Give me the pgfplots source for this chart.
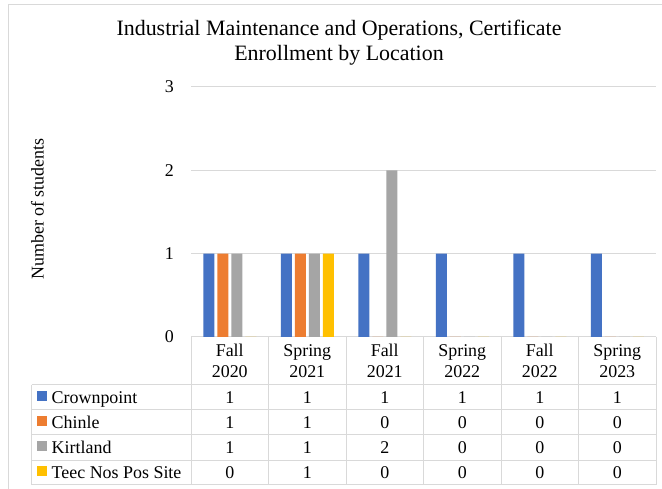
\documentclass[border=0pt]{standalone}
\usepackage{fontspec}
\setmainfont{Liberation Serif}
\usepackage{pgfplots}
\pgfplotsset{compat=1.18}
\definecolor{cBlue}{HTML}{4472C4}
\definecolor{cOrange}{HTML}{ED7D31}
\definecolor{cGray}{HTML}{A5A5A5}
\definecolor{cYellow}{HTML}{FFC000}
\definecolor{lineC}{HTML}{D9D9D9}
\begin{document}
\begin{tikzpicture}[x=1bp,y=1bp]
\useasboundingbox (0,0) rectangle (662,489);
\fill[white] (0,0) rectangle (662,489);
\draw[lineC, line width=1bp] (8,0) -- (8,484) -- (662,484);
\node[font=\fontsize{22}{25}\selectfont, align=center] at (339,446) {Industrial Maintenance and Operations, Certificate\\Enrollment by Location};
\node[rotate=90, font=\fontsize{18}{21}\selectfont] at (37.5,280) {Number of students};
\begin{axis}[
  at={(191bp,152bp)}, anchor=origin, scale only axis,
  width=465bp, height=250bp,
  xmin=0, xmax=6, ymin=0, ymax=3,
  ytick={0,1,2,3}, xtick={0.5,1.5,2.5,3.5,4.5,5.5},
  xticklabels={{Fall\\2020},{Spring\\2021},{Fall\\2021},{Spring\\2022},{Fall\\2022},{Spring\\2023}},
  xticklabel style={align=center, anchor=center, yshift=-24bp, inner sep=0pt, font=\fontsize{18}{21.5}\selectfont},
  yticklabel style={anchor=east, inner sep=0pt, xshift=-17bp, font=\fontsize{18}{21}\selectfont},
  /pgf/number format/assume math mode=true,
  ybar=3bp, bar width=11bp,
  ymajorgrids, grid style={lineC, line width=1bp},
  axis line style={draw=none}, major tick length=0pt,
  clip=false,
]
\addplot[fill=cBlue, draw=none] coordinates {(0.5,1)(1.5,1)(2.5,1)(3.5,1)(4.5,1)(5.5,1)};
\addplot[fill=cOrange, draw=none] coordinates {(0.5,1)(1.5,1)(2.5,0)(3.5,0)(4.5,0)(5.5,0)};
\addplot[fill=cGray, draw=none] coordinates {(0.5,1)(1.5,1)(2.5,2)(3.5,0)(4.5,0)(5.5,0)};
\addplot[fill=cYellow, draw=none] coordinates {(0.5,0)(1.5,1)(2.5,0)(3.5,0)(4.5,0)(5.5,0)};
\end{axis}
% data table grid
\begin{scope}[lineC, line width=1bp]
\foreach \x in {191,268.5,346,423.5,501,578.5,656} \draw (\x,152) -- (\x,4);
\draw (31.7,104) -- (31.7,4);
\foreach \y in {104,79,54,28.5,4} \draw (31.7,\y) -- (656,\y);
\end{scope}
\foreach \name/\col/\base/\sq/\vals in {
  Crownpoint/cBlue/85.5/93/{1,1,1,1,1,1},
  Chinle/cOrange/60.5/68/{1,1,0,0,0,0},
  Kirtland/cGray/35/42.75/{1,1,2,0,0,0},
  Teec Nos Pos Site/cYellow/10/17.75/{0,1,0,0,0,0}}{
  \fill[\col] (36.7,\sq-5) rectangle (46.7,\sq+5);
  \node[anchor=base west, inner sep=0pt, font=\fontsize{18}{21}\selectfont] at (51.5,\base) {\name};
  \foreach \v [count=\i from 0] in \vals {
    \node[anchor=base, inner sep=0pt, font=\fontsize{18}{21}\selectfont] at (229.75+77.5*\i,\base) {\v};
  }
}
\end{tikzpicture}
\end{document}
